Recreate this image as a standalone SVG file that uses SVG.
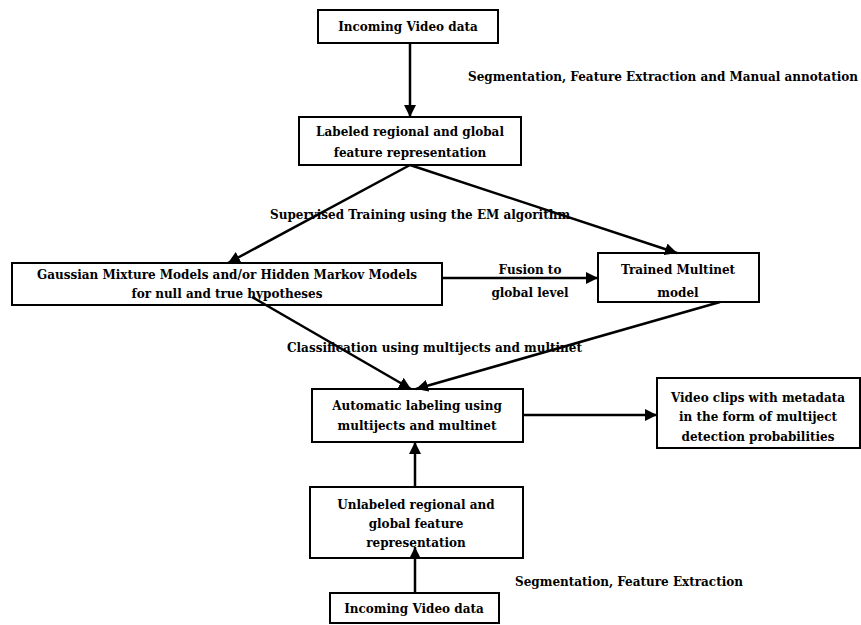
<svg xmlns="http://www.w3.org/2000/svg" width="861" height="625" viewBox="0 0 861 625">
  <style>
    .box { fill: #ffffff; stroke: #000000; stroke-width: 2; }
    .t { font-family: "DejaVu Serif", "Liberation Serif", serif; font-size: 12px; font-weight: bold; fill: #000000; text-anchor: middle; }
    .lbl { font-family: "DejaVu Serif", "Liberation Serif", serif; font-size: 12px; font-weight: bold; fill: #000000; }
    .edge { stroke: #000000; stroke-width: 2.5; fill: none; marker-end: url(#arrow); }
  </style>
  <defs>
    <marker id="arrow" markerWidth="12" markerHeight="12" refX="10" refY="5" orient="auto" markerUnits="userSpaceOnUse" viewBox="0 0 10 10">
      <path d="M0,0 L10,5 L0,10 Z" fill="#000000"/>
    </marker>
  </defs>
  <rect width="861" height="625" fill="#ffffff"/>

  <g id="incoming-top">
    <rect class="box" x="318" y="10" width="180" height="33"/>
    <text class="t" x="408" y="31">Incoming Video data</text>
  </g>

  <text class="lbl" x="468" y="81" textLength="390" lengthAdjust="spacingAndGlyphs">Segmentation, Feature Extraction and Manual annotation</text>

  <g id="labeled-features">
    <rect class="box" x="299" y="117" width="222" height="48"/>
    <text class="t" x="410" y="136">Labeled regional and global</text>
    <text class="t" x="410" y="157">feature representation</text>
  </g>

  <text class="lbl" x="270" y="219">Supervised Training using the EM algorithm</text>

  <g id="gmm-hmm">
    <rect class="box" x="12" y="263" width="430" height="42"/>
    <text class="t" x="227" y="279">Gaussian Mixture Models and/or Hidden Markov Models</text>
    <text class="t" x="227" y="298">for null and true hypotheses</text>
  </g>

  <text class="t" x="530" y="274">Fusion to</text>
  <text class="t" x="530" y="297">global level</text>

  <g id="trained-multinet">
    <rect class="box" x="598" y="253" width="161" height="49"/>
    <text class="t" x="678" y="274">Trained Multinet</text>
    <text class="t" x="678" y="297">model</text>
  </g>

  <text class="lbl" x="287" y="352">Classification using multijects and multinet</text>

  <g id="automatic-labeling">
    <rect class="box" x="312" y="389" width="211" height="53"/>
    <text class="t" x="417" y="410">Automatic labeling using</text>
    <text class="t" x="417" y="430">multijects and multinet</text>
  </g>

  <g id="video-clips">
    <rect class="box" x="657" y="378" width="203" height="70"/>
    <text class="t" x="758" y="402">Video clips with metadata</text>
    <text class="t" x="758" y="421">in the form of multiject</text>
    <text class="t" x="758" y="441">detection probabilities</text>
  </g>

  <g id="unlabeled-features">
    <rect class="box" x="310" y="487" width="213" height="71"/>
    <text class="t" x="416" y="509">Unlabeled regional and</text>
    <text class="t" x="416" y="528">global feature</text>
    <text class="t" x="416" y="547">representation</text>
  </g>

  <text class="lbl" x="515" y="586">Segmentation, Feature Extraction</text>

  <g id="incoming-bottom">
    <rect class="box" x="330" y="593" width="169" height="30"/>
    <text class="t" x="414" y="613">Incoming Video data</text>
  </g>

  <g id="connectors">
    <line class="edge" x1="410" y1="43" x2="410" y2="117"/>
    <line class="edge" x1="410" y1="165" x2="228" y2="263"/>
    <line class="edge" x1="410" y1="165" x2="677" y2="253"/>
    <line class="edge" x1="442" y1="278" x2="598" y2="278"/>
    <line class="edge" x1="252" y1="297" x2="411" y2="389"/>
    <line class="edge" x1="720" y1="302" x2="416" y2="389"/>
    <line class="edge" x1="523" y1="415" x2="657" y2="415"/>
    <line class="edge" x1="415" y1="487" x2="415" y2="442"/>
    <line class="edge" x1="415" y1="593" x2="415" y2="547"/>
  </g>
</svg>
